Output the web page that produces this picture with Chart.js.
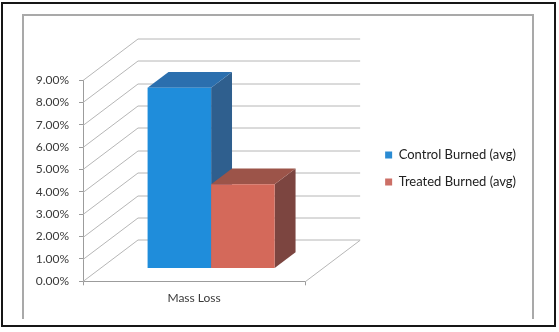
<!DOCTYPE html>
<html>
<head>
<meta charset="utf-8">
<script src="https://cdn.jsdelivr.net/npm/chart.js@4/dist/chart.umd.min.js"></script>
<style>
  body { margin: 0; background: #fff; }
  #wrap { position: relative; width: 559px; height: 332px; }
  #scan { position: absolute; left: 1px; top: 2px; width: 551px; height: 321px; border: 2px solid #161616; }
  #frame { position: absolute; left: 22px; top: 14px; width: 508px; height: 303px; border: 2px solid #a9a9a9; border-bottom: none; }
  canvas { position: absolute; left: 0; top: 0; }
</style>
</head>
<body>
<div id="wrap">
  <div id="scan"></div>
  <div id="frame"></div>
  <canvas id="chart" width="559" height="332"></canvas>
</div>
<script>
const categories = ['Mass Loss'];
const seriesNames = ['Control Burned (avg)', 'Treated Burned (avg)'];
const controlBurned = [8.08];
const treatedBurned = [3.76];
const yMin = 0;
const yMax = 9;
const yStep = 1;

// front, top and side shades of each box
const blueFaces = ['#1f8ddb', '#2b6fae', '#2f5f8e'];
const redFaces = ['#d4695a', '#9c5449', '#7c4540'];

// oblique depth of the floor, and where the boxes sit inside it
const DEPTH_X = 55;
const DEPTH_Y = -41.5;
const BAR_NEAR = 0.31;
const BAR_FAR = 0.69;

function fillPoly(ctx, color, pts) {
  ctx.fillStyle = color;
  ctx.beginPath();
  ctx.moveTo(pts[0][0], pts[0][1]);
  for (let i = 1; i < pts.length; i++) ctx.lineTo(pts[i][0], pts[i][1]);
  ctx.closePath();
  ctx.fill();
}

// walls + 3d boxes, drawn instead of the flat bars
const box3d = {
  id: 'box3d',
  beforeDatasetsDraw(chart) {
    const { ctx, chartArea: a, scales: { x, y } } = chart;
    ctx.save();
    ctx.strokeStyle = '#b6b6b6';
    ctx.lineWidth = 1;
    y.ticks.forEach(t => {
      const py = Math.round(y.getPixelForValue(t.value)) + 0.5;
      ctx.beginPath();
      ctx.moveTo(a.left, py);
      ctx.lineTo(a.left + DEPTH_X, py + DEPTH_Y);
      ctx.lineTo(a.right + DEPTH_X, py + DEPTH_Y);
      ctx.stroke();
    });
    // right edge of the floor
    ctx.beginPath();
    ctx.moveTo(a.right, a.bottom + 0.5);
    ctx.lineTo(a.right + DEPTH_X, a.bottom + 0.5 + DEPTH_Y);
    ctx.stroke();

    const nx = BAR_NEAR * DEPTH_X, ny = BAR_NEAR * DEPTH_Y;
    const fx = BAR_FAR * DEPTH_X, fy = BAR_FAR * DEPTH_Y;
    [blueFaces, redFaces].forEach((faces, i) => {
      chart.getDatasetMeta(i).data.forEach(bar => {
        const { x: cx, y: top, base, width } = bar.getProps(['x', 'y', 'base', 'width'], true);
        const l = cx - width / 2, r = cx + width / 2;
        fillPoly(ctx, faces[2], [[r + nx, top + ny], [r + fx, top + fy], [r + fx, base + fy], [r + nx, base + ny]]);
        fillPoly(ctx, faces[1], [[l + nx, top + ny], [r + nx, top + ny], [r + fx, top + fy], [l + fx, top + fy]]);
        fillPoly(ctx, faces[0], [[l + nx, top + ny], [r + nx, top + ny], [r + nx, base + ny], [l + nx, base + ny]]);
      });
    });
    ctx.restore();
    return false;
  }
};

Chart.defaults.font.family = 'Lato';

const axisGray = '#9c9c9c';
const labelColor = '#3a3a3a';

new Chart(document.getElementById('chart'), {
  type: 'bar',
  data: {
    labels: categories,
    datasets: [
      { label: seriesNames[0], data: controlBurned, backgroundColor: '#2a8bd3', borderWidth: 0 },
      { label: seriesNames[1], data: treatedBurned, backgroundColor: '#cc6f66', borderWidth: 0 }
    ]
  },
  options: {
    responsive: false,
    animation: false,
    events: [],
    devicePixelRatio: 1,
    layout: { padding: { top: 5, right: 33, bottom: 0, left: 0 } },
    datasets: { bar: { categoryPercentage: 0.572, barPercentage: 1 } },
    plugins: {
      legend: {
        position: 'right',
        maxWidth: 240,
        labels: {
          boxWidth: 7,
          boxHeight: 7,
          padding: 14,
          color: '#222',
          font: { size: 13 }
        }
      },
      tooltip: { enabled: false }
    },
    scales: {
      x: {
        offset: true,
        grid: { offset: true, drawOnChartArea: false, tickLength: 4, color: axisGray },
        border: { color: axisGray },
        ticks: { padding: 6, color: labelColor, font: { size: 12 } },
        afterFit: s => { s.height = 50.7; }
      },
      y: {
        min: yMin,
        max: yMax,
        grid: { drawOnChartArea: false, tickLength: 4, color: axisGray },
        border: { color: axisGray },
        ticks: {
          stepSize: yStep,
          padding: 10,
          color: labelColor,
          font: { size: 12 },
          callback: v => v.toFixed(2) + '%'
        },
        afterFit: s => { s.width = 83; }
      },
      // empty spacers above the plot and between plot and legend
      topGap: {
        type: 'linear',
        position: 'top',
        grid: { display: false },
        border: { display: false },
        ticks: { display: false },
        afterFit: s => { s.height = 75; }
      },
      rightGap: {
        type: 'linear',
        position: 'right',
        grid: { display: false },
        border: { display: false },
        ticks: { display: false },
        afterFit: s => { s.width = 66; }
      }
    }
  },
  plugins: [box3d]
});
</script>
</body>
</html>
